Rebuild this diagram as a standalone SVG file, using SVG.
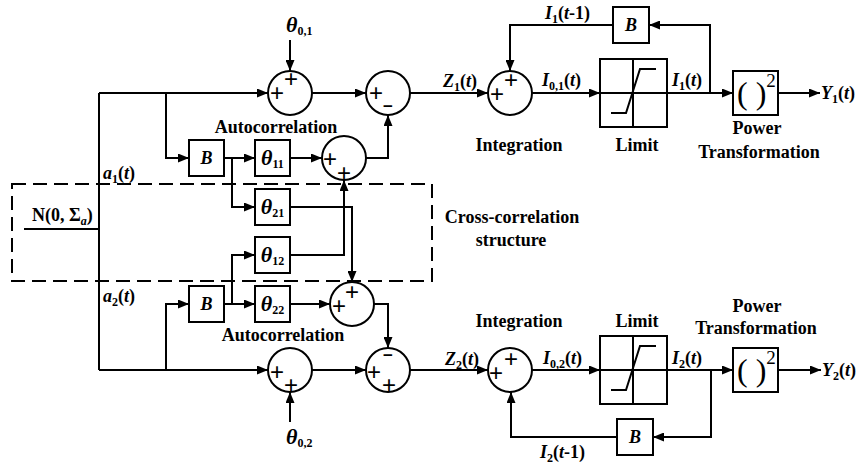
<svg xmlns="http://www.w3.org/2000/svg" width="859" height="466" viewBox="0 0 859 466">
<style>
.ln{fill:none;stroke:#000;stroke-width:2}
.ar{fill:none;stroke:#000;stroke-width:2;marker-end:url(#ah)}
.bx{fill:#fff;stroke:#000;stroke-width:2}
.cr{fill:#fff;stroke:#000;stroke-width:2}
.dash{fill:none;stroke:#000;stroke-width:2;stroke-dasharray:14 7}
.t{font-family:"Liberation Serif","Times New Roman",serif;font-weight:bold;font-size:18px;fill:#000}
.i{font-style:italic}
.s{font-size:12px}
.th{font-style:italic;font-size:22px}
.sg{font-family:"Liberation Sans",Arial,sans-serif;font-size:24px;font-weight:normal;fill:#000;text-anchor:middle}
.mn{font-family:"Liberation Sans",Arial,sans-serif;font-size:17px;font-weight:bold;fill:#000;text-anchor:middle}
.m{text-anchor:middle}
.pw{font-family:"Liberation Serif","Times New Roman",serif;font-size:32px;fill:#000}
</style>
<defs>
<marker id="ah" markerUnits="userSpaceOnUse" markerWidth="11" markerHeight="9" refX="11" refY="4.5" orient="auto">
<path d="M0,0 L11,4.5 L0,9 z" fill="#000"/>
</marker>
</defs>

<rect id="crossbox" class="dash" x="12" y="184" width="420" height="97"/>

<g id="connectors">
<path class="ln" d="M24,229 H99 M99,93 V370"/>
<path class="ar" d="M99,93 H268"/>
<path class="ar" d="M166,93 V158 H189"/>
<path class="ar" d="M224,158 H255"/>
<path class="ar" d="M232,158 V207 H255"/>
<path class="ar" d="M290,158 H322"/>
<path class="ar" d="M366,158 H388 V115"/>
<path class="ar" d="M312,93 H366"/>
<path class="ar" d="M290,40 V71"/>
<path class="ar" d="M290,207 H352 V282"/>
<path class="ar" d="M290,255 H344 V180"/>
<path class="ar" d="M166,370 V304 H189"/>
<path class="ar" d="M224,304 H255"/>
<path class="ar" d="M232,304 V255 H255"/>
<path class="ar" d="M290,304 H330"/>
<path class="ar" d="M374,304 H388 V348"/>
<path class="ar" d="M99,370 H268"/>
<path class="ar" d="M312,370 H366"/>
<path class="ar" d="M290,422 V392"/>
<path class="ar" d="M410,93 H488"/>
<path class="ar" d="M532,93 H600"/>
<path class="ar" d="M667,93 H733"/>
<path class="ar" d="M710,93 V25 H649"/>
<path class="ar" d="M613,25 H510 V71"/>
<path class="ar" d="M778,93 H820"/>
<path class="ar" d="M410,370 H488"/>
<path class="ar" d="M532,370 H600"/>
<path class="ar" d="M667,370 H733"/>
<path class="ar" d="M711,370 V437 H653"/>
<path class="ar" d="M617,437 H511 V392"/>
<path class="ar" d="M778,370 H821"/>
</g>

<g id="sum1"><circle class="cr" cx="290" cy="93" r="22"/><text class="sg" x="291" y="86.5">+</text><text class="sg" x="277" y="100.5">+</text></g>
<g id="sum2"><circle class="cr" cx="388" cy="93" r="22"/><text class="sg" x="376" y="100.5">+</text><text class="mn" x="388" y="112">−</text></g>
<g id="sum3"><circle class="cr" cx="344" cy="158" r="22"/><text class="sg" x="330" y="166.5">+</text><text class="sg" x="344" y="180.5">+</text></g>
<g id="sum4"><circle class="cr" cx="352" cy="304" r="22"/><text class="sg" x="352" y="299.5">+</text><text class="sg" x="339" y="313.5">+</text></g>
<g id="sum5"><circle class="cr" cx="290" cy="370" r="22"/><text class="sg" x="277" y="379.5">+</text><text class="sg" x="291" y="392.5">+</text></g>
<g id="sum6"><circle class="cr" cx="388" cy="370" r="22"/><text class="mn" x="388" y="361">−</text><text class="sg" x="374" y="379.5">+</text><text class="sg" x="389" y="392.5">+</text></g>
<g id="sum7"><circle class="cr" cx="510" cy="93" r="22"/><text class="sg" x="511" y="87.5">+</text><text class="sg" x="497" y="101.5">+</text></g>
<g id="sum8"><circle class="cr" cx="510" cy="370" r="22"/><text class="sg" x="511" y="366.5">+</text><text class="sg" x="496" y="380.5">+</text></g>

<g id="B1"><rect class="bx" x="189" y="140" width="35" height="36"/><text class="t i m" x="206.5" y="164">B</text></g>
<g id="theta11"><rect class="bx" x="255" y="140" width="35" height="36"/><text class="t m" x="272.5" y="165"><tspan class="th">θ</tspan><tspan class="s" dy="3">11</tspan></text></g>
<g id="theta21"><rect class="bx" x="255" y="189" width="35" height="36"/><text class="t m" x="272.5" y="214"><tspan class="th">θ</tspan><tspan class="s" dy="3">21</tspan></text></g>
<g id="theta12"><rect class="bx" x="255" y="237" width="35" height="36"/><text class="t m" x="272.5" y="262"><tspan class="th">θ</tspan><tspan class="s" dy="3">12</tspan></text></g>
<g id="B2"><rect class="bx" x="189" y="286" width="35" height="36"/><text class="t i m" x="206.5" y="310">B</text></g>
<g id="theta22"><rect class="bx" x="255" y="286" width="35" height="36"/><text class="t m" x="272.5" y="311"><tspan class="th">θ</tspan><tspan class="s" dy="3">22</tspan></text></g>

<g id="limit1"><rect class="bx" x="600" y="59" width="67" height="68"/><path class="ln" d="M633,59 V127 M600,93 H667" stroke-width="1.5"/><path class="ln" d="M611,113 H626 L640,69 H656"/></g>
<g id="limit2"><rect class="bx" x="600" y="336" width="67" height="68"/><path class="ln" d="M633,336 V404 M600,370 H667" stroke-width="1.5"/><path class="ln" d="M611,390 H626 L640,346 H656"/></g>
<g id="power1"><rect class="bx" x="733" y="71" width="45" height="44"/><text class="pw" x="737" y="104">( )<tspan font-size="19" dy="-17">2</tspan></text></g>
<g id="power2"><rect class="bx" x="733" y="348" width="45" height="44"/><text class="pw" x="737" y="381">( )<tspan font-size="19" dy="-17">2</tspan></text></g>
<g id="Bf1"><rect class="bx" x="613" y="7" width="36" height="36"/><text class="t i m" x="631" y="31">B</text></g>
<g id="Bf2"><rect class="bx" x="617" y="419" width="36" height="36"/><text class="t i m" x="635" y="443">B</text></g>

<g id="labels">
<text class="t" x="286" y="32"><tspan class="th">θ</tspan><tspan class="s" dy="3">0,1</tspan></text>
<text class="t" x="286" y="444"><tspan class="th">θ</tspan><tspan class="s" dy="3">0,2</tspan></text>
<text class="t m" x="276" y="133">Autocorrelation</text>
<text class="t m" x="283" y="341">Autocorrelation</text>
<text class="t" x="103" y="179"><tspan class="i">a</tspan><tspan class="s" dy="4">1</tspan><tspan dy="-4">(</tspan><tspan class="i">t</tspan>)</text>
<text class="t" x="103" y="302"><tspan class="i">a</tspan><tspan class="s" dy="4">2</tspan><tspan dy="-4">(</tspan><tspan class="i">t</tspan>)</text>
<text class="t" x="32" y="221">N(0, Σ<tspan class="s i" dy="4">a</tspan><tspan dy="-4">)</tspan></text>
<text class="t m" x="512" y="223">Cross-correlation</text>
<text class="t m" x="511" y="246">structure</text>
<text class="t" x="443" y="87"><tspan class="i">Z</tspan><tspan class="s" dy="4">1</tspan><tspan dy="-4">(</tspan><tspan class="i">t</tspan>)</text>
<text class="t" x="445" y="365"><tspan class="i">Z</tspan><tspan class="s" dy="4">2</tspan><tspan dy="-4">(</tspan><tspan class="i">t</tspan>)</text>
<text class="t" x="542" y="86"><tspan class="i">I</tspan><tspan class="s" dy="4">0,1</tspan><tspan dy="-4">(</tspan><tspan class="i">t</tspan>)</text>
<text class="t" x="543" y="364"><tspan class="i">I</tspan><tspan class="s" dy="4">0,2</tspan><tspan dy="-4">(</tspan><tspan class="i">t</tspan>)</text>
<text class="t" x="672" y="86"><tspan class="i">I</tspan><tspan class="s" dy="4">1</tspan><tspan dy="-4">(</tspan><tspan class="i">t</tspan>)</text>
<text class="t" x="672" y="364"><tspan class="i">I</tspan><tspan class="s" dy="4">2</tspan><tspan dy="-4">(</tspan><tspan class="i">t</tspan>)</text>
<text class="t" x="545" y="19"><tspan class="i">I</tspan><tspan class="s" dy="4">1</tspan><tspan dy="-4">(</tspan><tspan class="i">t</tspan>-1)</text>
<text class="t" x="540" y="458"><tspan class="i">I</tspan><tspan class="s" dy="4">2</tspan><tspan dy="-4">(</tspan><tspan class="i">t</tspan>-1)</text>
<text class="t" x="821" y="99"><tspan class="i">Y</tspan><tspan class="s" dy="4">1</tspan><tspan dy="-4">(</tspan><tspan class="i">t</tspan>)</text>
<text class="t" x="822" y="376"><tspan class="i">Y</tspan><tspan class="s" dy="4">2</tspan><tspan dy="-4">(</tspan><tspan class="i">t</tspan>)</text>
<text class="t m" x="519" y="151">Integration</text>
<text class="t m" x="637" y="151">Limit</text>
<text class="t m" x="757" y="134">Power</text>
<text class="t m" x="759" y="158">Transformation</text>
<text class="t m" x="519" y="327">Integration</text>
<text class="t m" x="637" y="327">Limit</text>
<text class="t m" x="757" y="312">Power</text>
<text class="t m" x="756" y="334">Transformation</text>
</g>
</svg>
